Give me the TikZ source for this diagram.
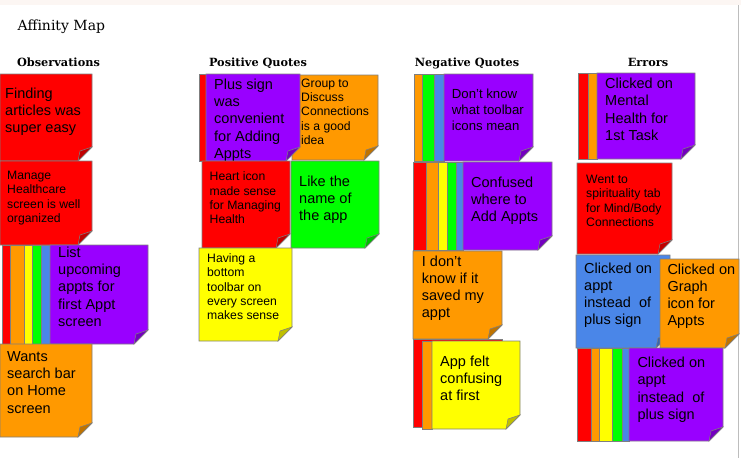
\documentclass[tikz,border=0pt]{standalone}
\usepackage{fontspec}
\usetikzlibrary{positioning}
\newfontfamily\notefont{Liberation Sans}
\newfontfamily\slabfont{DejaVu Serif}
\definecolor{nred}{HTML}{FF0000}
\definecolor{norange}{HTML}{FF9900}
\definecolor{nyellow}{HTML}{FFFF00}
\definecolor{ngreen}{HTML}{00FF00}
\definecolor{nblue}{HTML}{4A86E8}
\definecolor{npurple}{HTML}{9900FF}
\definecolor{edge}{HTML}{7F7F7F}
\definecolor{band}{HTML}{FCF6F3}
\definecolor{sheetline}{HTML}{BDBDBD}

% sticky note body, bottom right corner peeled up
\newcommand{\peel}[2]{%
  \filldraw[fill=#2,draw=edge,line width=0.8pt]
    (#1.north west) -- (#1.north east) -- ([yshift=14pt]#1.south east)
    -- ([xshift=-14pt]#1.south east) -- (#1.south west) -- cycle;
  \filldraw[fill=#2!75!black,draw=edge,line width=0.5pt]
    ([xshift=-14pt]#1.south east) -- ([yshift=14pt]#1.south east)
    -- ([xshift=-12pt,yshift=10pt]#1.south east) -- cycle;
}

\begin{document}
\begin{tikzpicture}[x=1pt,y=-1pt,
  sticky/.style={rectangle,inner sep=0pt,outer sep=0pt,anchor=north west},
  notetxt/.style={inner sep=0pt,align=left,execute at begin node=\strut},
  big/.style={notetxt,font=\notefont\fontsize{14.5}{17.1}\selectfont},
  mid/.style={notetxt,font=\notefont\fontsize{13.2}{16.3}\selectfont},
  small/.style={notetxt,font=\notefont\fontsize{12.2}{14.4}\selectfont},
  strip/.style={draw=edge,line width=0.6pt},
  head/.style={font=\slabfont\bfseries\fontsize{11.3}{13}\selectfont,anchor=base,inner sep=0pt},
]
  \useasboundingbox (0,0) rectangle (741,458);
  \fill[band] (0,0) rectangle (741,5);
  \draw[sheetline,line width=1pt] (738.5,5) -- (738.5,458);

  \node[font=\slabfont\fontsize{14}{17}\selectfont,anchor=base west,inner sep=0pt] (title) at (17.5,30.5) {Affinity Map};
  \node[head] (hobs) at (58.5,66.5) {Observations};
  \node[head] (hpos) at (258,66.5) {Positive Quotes};
  \node[head] (hneg) at (467,66.5) {Negative Quotes};
  \node[head] (herr) at (648,66.5) {Errors};

  % Observations
  \node[sticky,minimum width=92pt,minimum height=87pt] (obs1) at (0,74) {};
  \peel{obs1}{nred}
  \node[big,below right=14pt and 5pt of obs1.north west] (obs1txt) {Finding\\articles was\\super easy};
  \node[sticky,minimum width=92pt,minimum height=84pt] (obs2) at (0,161) {};
  \peel{obs2}{nred}
  \node[small,below right=10pt and 7pt of obs2.north west] (obs2txt) {Manage\\Healthcare\\screen is well\\organized};
  \foreach \a/\b/\c in {2/10/nred,10/24/norange,24/32/nyellow,32/41/ngreen,41/50/nblue}
    \filldraw[strip,fill=\c] (\a,245) rectangle (\b,344);
  \node[sticky,minimum width=98pt,minimum height=99pt] (obs3) at (50,245) {};
  \peel{obs3}{npurple}
  \node[big,below right=2pt and 8pt of obs3.north west] (obs3txt) {List\\upcoming\\appts for\\first Appt\\screen};
  \node[sticky,minimum width=92pt,minimum height=93pt] (obs4) at (0,344) {};
  \peel{obs4}{norange}
  \node[big,below right=7.6pt and 7pt of obs4.north west] (obs4txt) {Wants\\search bar\\on Home\\screen};

  % Positive Quotes
  \node[sticky,minimum width=86pt,minimum height=85pt] (pos2) at (292,75) {};
  \peel{pos2}{norange}
  \node[small,below right=3.3pt and 9pt of pos2.north west] (pos2txt) {Group to\\Discuss\\Connections\\is a good\\idea};
  \filldraw[strip,fill=nred] (199,74) rectangle (206,161);
  \node[sticky,minimum width=94pt,minimum height=87pt] (pos1) at (206,74) {};
  \peel{pos1}{npurple}
  \node[big,below right=5pt and 8pt of pos1.north west] (pos1txt) {Plus sign\\was\\convenient\\for Adding\\Appts};
  \node[sticky,minimum width=88pt,minimum height=87pt] (pos3) at (202,161) {};
  \peel{pos3}{nred}
  \node[small,below right=10.6pt and 7.5pt of pos3.north west] (pos3txt) {Heart icon\\made sense\\for Managing\\Health};
  \node[sticky,minimum width=88pt,minimum height=87pt] (pos4) at (291,161) {};
  \peel{pos4}{ngreen}
  \node[big,below right=14.8pt and 8pt of pos4.north west] (pos4txt) {Like the\\name of\\the app};
  \node[sticky,minimum width=93pt,minimum height=93pt] (pos5) at (199,248) {};
  \peel{pos5}{nyellow}
  \node[small,below right=5.2pt and 8pt of pos5.north west] (pos5txt) {Having a\\bottom\\toolbar on\\every screen\\makes sense};

  % Negative Quotes
  \foreach \a/\b/\c in {414/422/norange,422/434/ngreen,434/444/nblue}
    \filldraw[strip,fill=\c] (\a,74) rectangle (\b,161);
  \node[sticky,minimum width=89pt,minimum height=87pt] (neg1) at (444,74) {};
  \peel{neg1}{npurple}
  \node[mid,below right=14.6pt and 7.7pt of neg1.north west] (neg1txt) {Don’t know\\what toolbar\\icons mean};
  \foreach \a/\b/\c in {413/426/nred,426/438/norange,438/447/nyellow,447/456/ngreen,456/463/nblue}
    \filldraw[strip,fill=\c] (\a,162) rectangle (\b,250);
  \node[sticky,minimum width=89pt,minimum height=88pt] (neg2) at (463,162) {};
  \peel{neg2}{npurple}
  \node[big,below right=14.4pt and 8pt of neg2.north west] (neg2txt) {Confused\\where to\\Add Appts};
  \node[sticky,minimum width=89pt,minimum height=88pt] (neg3) at (413,251) {};
  \peel{neg3}{norange}
  \node[big,below right=4.8pt and 8.7pt of neg3.north west] (neg3txt) {I don’t\\know if it\\saved my\\appt};
  \filldraw[strip,fill=nred] (413,339) rectangle (502,427);
  \filldraw[strip,fill=norange] (422,341) rectangle (432,429);
  \node[sticky,minimum width=88pt,minimum height=88pt] (neg4) at (432,341) {};
  \peel{neg4}{nyellow}
  \node[big,below right=14.8pt and 8pt of neg4.north west] (neg4txt) {App felt\\confusing\\at first};

  % Errors
  \foreach \a/\b/\c in {578/588/nred,588/597/norange}
    \filldraw[strip,fill=\c] (\a,73) rectangle (\b,159);
  \node[sticky,minimum width=98pt,minimum height=86pt] (err1) at (597,73) {};
  \peel{err1}{npurple}
  \node[big,below right=5.1pt and 8pt of err1.north west] (err1txt) {Clicked on\\Mental\\Health for\\1st Task};
  \node[sticky,minimum width=95pt,minimum height=91pt] (err2) at (577,163) {};
  \peel{err2}{nred}
  \node[small,below right=11.8pt and 9pt of err2.north west] (err2txt) {Went to\\spirituality tab\\for Mind/Body\\Connections};
  \node[sticky,minimum width=94pt,minimum height=93pt] (err3) at (576,255) {};
  \peel{err3}{nblue}
  \node[big,below right=7.4pt and 8pt of err3.north west] (err3txt) {Clicked on\\appt\\instead~ of\\plus sign};
  \node[sticky,minimum width=79pt,minimum height=89pt] (err4) at (660,259) {};
  \peel{err4}{norange}
  \node[big,below right=4.4pt and 7.3pt of err4.north west] (err4txt) {Clicked on\\Graph\\icon for\\Appts};
  \foreach \a/\b/\c in {577/591/nred,591/599/norange,599/612/nyellow,612/622/ngreen,622/629/nblue}
    \filldraw[strip,fill=\c] (\a,348) rectangle (\b,441);
  \node[sticky,minimum width=94pt,minimum height=93pt] (err5) at (629,348) {};
  \peel{err5}{npurple}
  \node[big,below right=9.1pt and 8.3pt of err5.north west] (err5txt) {Clicked on\\appt\\instead~ of\\plus sign};
\end{tikzpicture}
\end{document}
